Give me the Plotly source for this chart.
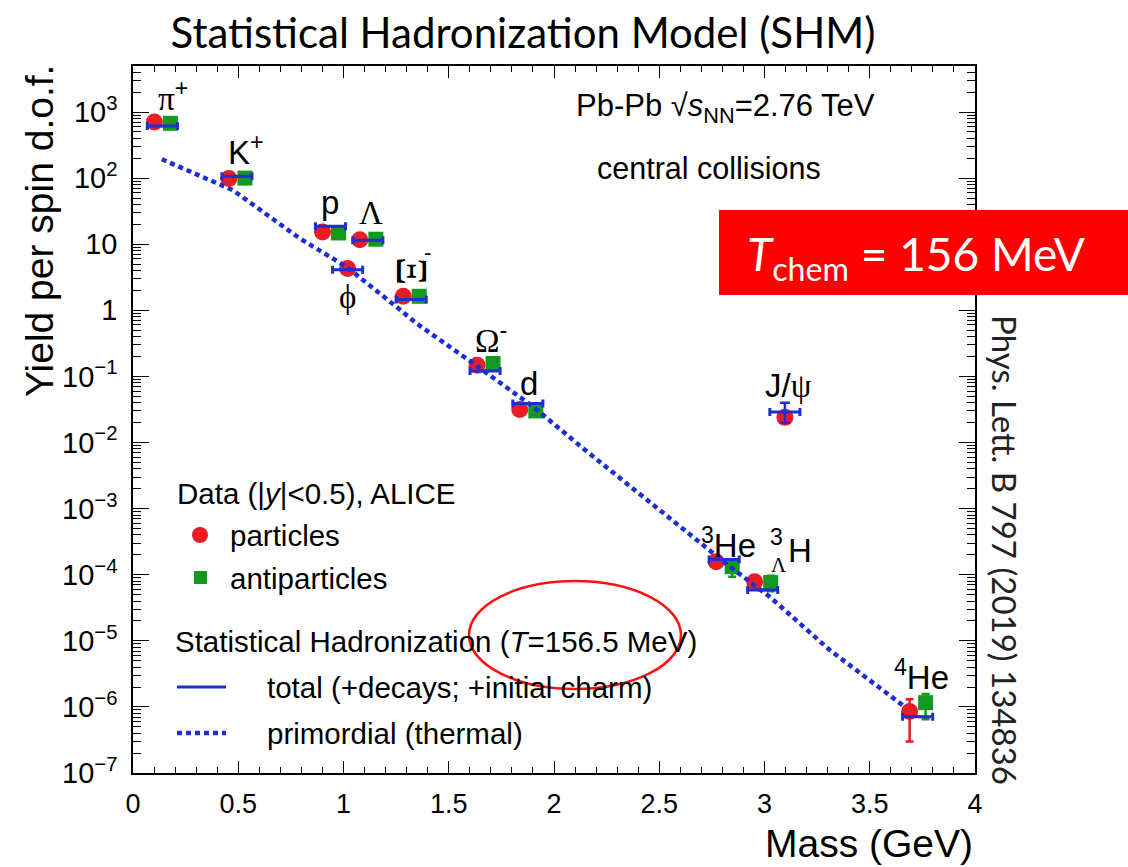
import plotly.graph_objects as go

# ---------------- data ----------------
species = ["pi+", "K+", "p", "phi", "Lambda", "Xi-", "Omega-", "d", "3He", "3LH", "J/psi", "4He"]
mass_gev = [0.1396, 0.4937, 0.9383, 1.0195, 1.1157, 1.3217, 1.6725, 1.8756, 2.8084, 2.9913, 3.0969, 3.7274]

# measured yields per spin d.o.f. (ALICE, Pb-Pb 2.76 TeV)
particle_yield = [706, 98.5, 15.3, 4.3, 11.7, 1.63, 0.148, 0.0316, 1.57e-4, 7.8e-5, 0.024, 8.5e-7]
particle_err_plus = [None, None, None, None, None, None, None, None, None, None, None, 4.5e-7]
particle_err_minus = [None, None, None, None, None, None, None, None, None, None, None, 5.5e-7]

antiparticle_yield = [675, 100, 14.8, None, 11.9, 1.63, 0.157, 0.030, 1.32e-4, 7.6e-5, None, 1.16e-6]
antiparticle_err_plus = [None, None, None, None, None, None, None, None, 0.39e-4, 2.0e-5, None, 0.41e-6]
antiparticle_err_minus = [None, None, None, None, None, None, None, None, 0.39e-4, 2.0e-5, None, 0.51e-6]

# SHM total yields (+decays; +initial charm)
shm_total = [615, 107, 18.7, 4.1, 11.5, 1.46, 0.121, 0.039, 1.7e-4, 5.85e-5, 0.029, 7.1e-7]
shm_total_err_plus = [None, None, None, None, None, None, None, None, None, None, 0.0108, None]
shm_total_err_minus = [None, None, None, None, None, None, None, None, None, None, 0.0091, None]

# SHM primordial (thermal) yield vs mass
primordial_mass = [0.137, 0.475, 0.793, 1.015, 1.253, 1.348, 1.617, 1.902, 2.139, 2.60, 2.836, 3.026, 3.311, 3.667]
primordial_yield = [193, 65.5, 12.2, 4.53, 1.12, 0.63, 0.157, 0.0346, 0.0081, 5.3e-4, 1.32e-4, 4.6e-5, 7.2e-6, 1.0e-6]

x_tick_vals = [0, 0.5, 1, 1.5, 2, 2.5, 3, 3.5, 4]
x_tick_text = ["0", "0.5", "1", "1.5", "2", "2.5", "3", "3.5", "4"]
y_tick_vals = [1e-7, 1e-6, 1e-5, 1e-4, 1e-3, 1e-2, 1e-1, 1, 10, 1e2, 1e3]
y_tick_text = ["10<sup>\u22127</sup>", "10<sup>\u22126</sup>", "10<sup>\u22125</sup>", "10<sup>\u22124</sup>",
               "10<sup>\u22123</sup>", "10<sup>\u22122</sup>", "10<sup>\u22121</sup>", "1", "10",
               "10<sup>2</sup>", "10<sup>3</sup>"]

# ---------------- style ----------------
RED = "#ec1c24"
GREEN = "#13991f"
BLUE = "#1d2ed2"
SANS = "Liberation Sans, Arial, sans-serif"
SERIF = "Liberation Serif, Times New Roman, serif"
CAL = "Lato, Open Sans, sans-serif"

# Plot frame in pixels (page is 1128 x 867)
L, R, T, B = 133, 975, 66, 773
W_PAGE, H_PAGE = 1128, 867


def px(x):
    return (x - L) / (R - L)


def py(y):
    return (B - y) / (B - T)


# particles and antiparticles drawn side by side around the nominal mass
pair_shift = 0.038
has_anti = [a is not None for a in antiparticle_yield]
x_particle = [m - pair_shift if h else m for m, h in zip(mass_gev, has_anti)]
x_anti = [m + pair_shift for m, h in zip(mass_gev, has_anti) if h]
y_anti = [a for a in antiparticle_yield if a is not None]
ap_plus = [e for e, h in zip(antiparticle_err_plus, has_anti) if h]
ap_minus = [e for e, h in zip(antiparticle_err_minus, has_anti) if h]

fig = go.Figure()

fig.add_trace(go.Scatter(
    x=x_particle, y=particle_yield, mode="markers", name="particles",
    marker=dict(symbol="circle", size=17, color=RED, line=dict(width=0)),
    error_y=dict(type="data", symmetric=False, array=particle_err_plus,
                 arrayminus=particle_err_minus, color=RED, thickness=2.5, width=4),
    showlegend=False,
))

fig.add_trace(go.Scatter(
    x=x_anti, y=y_anti, mode="markers", name="antiparticles",
    marker=dict(symbol="square", size=15, color=GREEN, line=dict(width=0)),
    error_y=dict(type="data", symmetric=False, array=ap_plus,
                 arrayminus=ap_minus, color=GREEN, thickness=2.5, width=4),
    showlegend=False,
))

fig.add_trace(go.Scatter(
    x=primordial_mass, y=primordial_yield, mode="lines", name="primordial (thermal)",
    line=dict(color=BLUE, width=4.5, dash="5px,4px"),
    showlegend=False,
))

fig.add_trace(go.Scatter(
    x=mass_gev, y=shm_total, mode="markers", name="total (+decays; +initial charm)",
    marker=dict(size=2, color="rgba(0,0,0,0)"),
    error_x=dict(type="constant", value=0.0715, color=BLUE, thickness=3, width=4),
    error_y=dict(type="data", symmetric=False, array=shm_total_err_plus,
                 arrayminus=shm_total_err_minus, color=BLUE, thickness=2.5, width=5),
    showlegend=False,
))

annotations = []
shapes = []

# particle labels (position in mass / log10 yield)
label_font = 33
labels = [
    ("<span style='font-family:Liberation Serif'>\u03c0</span><sup>+</sup>", 0.19, 3.237, SANS, label_font, 0),
    ("K<sup>+</sup>", 0.535, 2.42, SANS, label_font, 0),
    ("p", 0.936, 1.635, SANS, label_font, 0),
    ("\u039b", 1.131, 1.468, SERIF, label_font, 0),
    ("\u03d5", 1.017, 0.198, SERIF, label_font, 0),
    ("\u039e", 1.326, 0.591, SERIF, 44, 90),
    ("-", 1.401, 0.879, SANS, 22, 0),
    ("<span style='font-family:Liberation Serif'>\u03a9</span><sup>-</sup>", 1.70, -0.422, SANS, label_font, 0),
    ("d", 1.881, -1.103, SANS, label_font, 0),
    ("J/<span style='font-family:Liberation Serif'>\u03c8</span>", 3.112, -1.133, SANS, label_font, 0),
    ("<sup>3</sup>He", 2.827, -3.522, SANS, label_font, 0),
    ("H", 3.169, -3.629, SANS, label_font, 0),
    ("3", 3.055, -3.433, SANS, 23, 0),
    ("\u039b", 3.069, -3.857, SERIF, 21, 0),
    ("<sup>4</sup>He", 3.748, -5.518, SANS, label_font, 0),
]
for txt, lx, ly, fam, fs, ang in labels:
    annotations.append(dict(x=lx, y=ly, xref="x", yref="y", text=txt, showarrow=False,
                            font=dict(family=fam, size=fs, color="black"),
                            textangle=ang, xanchor="center", yanchor="middle"))

# header texts inside the frame
annotations.append(dict(x=px(574), y=py(108), xref="paper", yref="paper",
                        text="Pb-Pb \u221a<i>s</i><sub>NN</sub>=2.76 TeV", showarrow=False,
                        font=dict(family=SANS, size=31, color="black"), xanchor="left", yanchor="middle"))
annotations.append(dict(x=px(595), y=py(168), xref="paper", yref="paper",
                        text="central collisions", showarrow=False,
                        font=dict(family=SANS, size=30.5, color="black"), xanchor="left", yanchor="middle"))

# legend block
leg_font = dict(family=SANS, size=29.5, color="black")
leg_text = [
    ("Data (|<i>y</i>|<0.5), ALICE", 175, 493),
    ("particles", 228, 535),
    ("antiparticles", 228, 578),
    ("Statistical Hadronization (<i>T</i>=156.5 MeV)", 173, 641),
    ("total (+decays; +initial charm)", 265, 687),
    ("primordial (thermal)", 265, 733),
]
for txt, lx, ly in leg_text:
    annotations.append(dict(x=px(lx), y=py(ly), xref="paper", yref="paper", text=txt,
                            showarrow=False, font=leg_font, xanchor="left", yanchor="middle"))

# legend symbols
shapes.append(dict(type="circle", xref="paper", yref="paper",
                   x0=px(192), x1=px(208), y0=py(543), y1=py(527),
                   fillcolor=RED, line=dict(width=0)))
shapes.append(dict(type="rect", xref="paper", yref="paper",
                   x0=px(194), x1=px(207), y0=py(584), y1=py(571),
                   fillcolor=GREEN, line=dict(width=0)))
shapes.append(dict(type="line", xref="paper", yref="paper",
                   x0=px(177), x1=px(226), y0=py(687), y1=py(687),
                   line=dict(color=BLUE, width=3)))
shapes.append(dict(type="line", xref="paper", yref="paper",
                   x0=px(177), x1=px(226), y0=py(733), y1=py(733),
                   line=dict(color=BLUE, width=4.5, dash="5px,4px")))

# highlight ellipse around the temperature
shapes.append(dict(type="circle", xref="paper", yref="paper",
                   x0=px(469), x1=px(681), y0=py(689), y1=py(581),
                   line=dict(color="#ff1010", width=2.5)))

# red banner with the chemical freeze-out temperature
shapes.append(dict(type="rect", xref="paper", yref="paper",
                   x0=px(719), x1=px(1128), y0=py(295), y1=py(210),
                   fillcolor="#ff0000", line=dict(width=0), layer="above"))
annotations.append(dict(x=px(745), y=py(257), xref="paper", yref="paper",
                        text="<i>T</i><sub>chem</sub> = 156 MeV", showarrow=False,
                        font=dict(family=CAL, size=46, color="white"),
                        xanchor="left", yanchor="middle"))

# axis titles
annotations.append(dict(x=px(40), y=py(231), xref="paper", yref="paper",
                        text="Yield per spin d.o.f.", showarrow=False, textangle=-90,
                        font=dict(family=SANS, size=39, color="black"),
                        xanchor="center", yanchor="middle"))
annotations.append(dict(x=px(975), y=py(843), xref="paper", yref="paper",
                        text="Mass (GeV)", showarrow=False,
                        font=dict(family=SANS, size=39, color="black"),
                        xanchor="right", yanchor="middle"))

# reference on the right
annotations.append(dict(x=px(1005), y=py(550), xref="paper", yref="paper",
                        text="Phys. Lett. B 797 (2019) 134836", showarrow=False, textangle=90,
                        font=dict(family=CAL, size=33, color="#222222"),
                        xanchor="center", yanchor="middle"))

minor_y = [k * 10.0 ** n for n in range(-7, 4) for k in range(2, 10)]

fig.update_layout(
    width=W_PAGE, height=H_PAGE, autosize=False,
    margin=dict(l=L, r=W_PAGE - R, t=T, b=H_PAGE - B, pad=0),
    paper_bgcolor="white", plot_bgcolor="white",
    title=dict(text="Statistical Hadronization Model (SHM)", x=523 / W_PAGE, xanchor="center",
               y=1 - 33 / H_PAGE, yanchor="middle",
               font=dict(family=CAL, size=42, color="black")),
    annotations=annotations, shapes=shapes,
    showlegend=False,
    xaxis=dict(range=[0, 4], tickmode="array", tickvals=x_tick_vals, ticktext=x_tick_text,
               ticks="inside", ticklen=12, tickwidth=1.2, tickcolor="black",
               minor=dict(ticks="inside", ticklen=6, dtick=0.1, tick0=0, tickcolor="black", tickwidth=1,
                          showgrid=False),
               showline=True, linecolor="black", linewidth=1.5, mirror="ticks",
               showgrid=False, zeroline=False, ticklabelstandoff=6,
               tickfont=dict(family=SANS, size=27, color="black")),
    yaxis=dict(type="log", range=[-7, 3.696], tickmode="array", tickvals=y_tick_vals, ticktext=y_tick_text,
               ticks="inside", ticklen=16, tickwidth=1.2, tickcolor="black",
               minor=dict(ticks="inside", ticklen=8, tickmode="array", tickvals=minor_y,
                          tickcolor="black", tickwidth=1, showgrid=False),
               showline=True, linecolor="black", linewidth=1.5, mirror="ticks",
               showgrid=False, zeroline=False, ticklabelstandoff=8,
               tickfont=dict(family=SANS, size=29, color="black")),
)

fig.write_html("out.html")
